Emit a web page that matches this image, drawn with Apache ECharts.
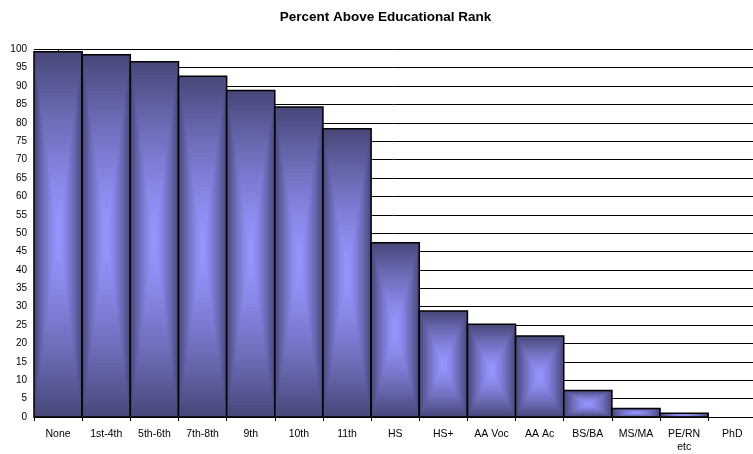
<!DOCTYPE html>
<html><head><meta charset="utf-8">
<script src="https://cdn.jsdelivr.net/npm/echarts@6/dist/echarts.min.js"></script>
<style>html,body{margin:0;padding:0;background:#fff}#c{width:753px;height:454px}</style>
</head><body><div id="c"></div>
<script>
var categories = ['None','1st-4th','5th-6th','7th-8th','9th','10th','11th','HS','HS+','AA Voc','AA Ac','BS/BA','MS/MA','PE/RN\netc','PhD'];
var values = [99.3, 98.5, 96.6, 92.7, 88.8, 84.3, 78.4, 47.4, 28.8, 25.2, 22.0, 7.2, 2.3, 1.0, 0];
var titleText = 'Percent Above Educational Rank';

var dark = [72, 72, 122], light = [150, 150, 255];
function lerp(t){
  var e = 1 - Math.pow(1 - t, 1.4);
  return 'rgb(' + [0,1,2].map(function(k){return Math.round(dark[k] + (light[k]-dark[k])*e);}).join(',') + ')';
}
var labelPos = categories.map(function(c,i){return i;});
var tickPos = categories.map(function(c,i){return i - 0.5;}).concat([categories.length - 0.5]);
var chart = echarts.init(document.getElementById('c'), null, {renderer:'canvas'});
chart.setOption({
  animation:false,
  backgroundColor:'#fff',
  title:{text:titleText,left:380.5,textAlign:'center',top:5,textStyle:{fontFamily:'Liberation Sans',fontSize:13.5,fontWeight:'bold',color:'#000'}},
  grid:{left:34,right:0,top:49.3,bottom:33},
  xAxis:{type:'value',min:-0.5,max:14.43,
    splitLine:{show:false},
    axisLine:{show:true,onZero:false,lineStyle:{color:'#000',width:1}},
    axisTick:{show:true,length:4,customValues:tickPos,lineStyle:{color:'#000'}},
    axisLabel:{margin:11,customValues:labelPos,showMinLabel:true,showMaxLabel:true,
      formatter:function(v){return categories[Math.round(v)] || '';},
      fontFamily:'Liberation Sans',fontSize:10.5,color:'#000',lineHeight:13}},
  yAxis:{type:'value',min:0,max:100,interval:5,
    axisLine:{show:true,lineStyle:{color:'#000',width:1}},
    axisTick:{show:true,length:4,lineStyle:{color:'#000'}},
    splitLine:{show:true,lineStyle:{color:'#000',width:1}},
    axisLabel:{margin:7,fontFamily:'Liberation Sans',fontSize:10,color:'#000'}},
  series:[{
    type:'custom',
    data:values.map(function(v,i){return [i,v];}),
    renderItem:function(params, api){
      var i = api.value(0), v = api.value(1);
      if (!(v > 0)) return null;
      var top = api.coord([i, v]);
      var bot = api.coord([i, 0]);
      var w = api.size([1, 0])[0];
      var x = top[0] - w/2, y = top[1], h = bot[1] - top[1];
      var children = [];
      var N = 40;
      for (var k = 0; k < N; k++) {
        var t = k / N;
        children.push({type:'rect', shape:{x:x + t*w/2, y:y + t*h/2, width:w*(1-t), height:h*(1-t)},
          style:{fill:lerp(t)}});
      }
      children.push({type:'rect', shape:{x:x, y:y, width:w, height:h}, style:{fill:null, stroke:'#000', lineWidth:1.5}});
      return {type:'group', children:children};
    }
  }]
});
</script></body></html>
